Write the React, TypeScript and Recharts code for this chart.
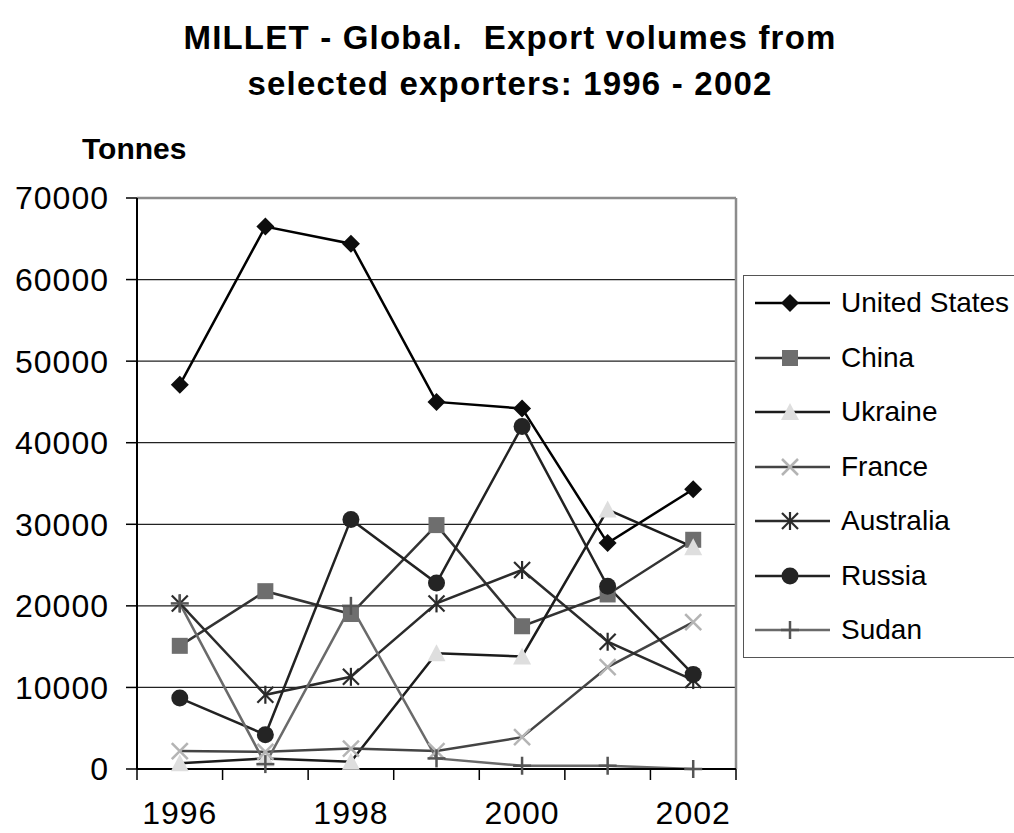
import React from 'react';
import { LineChart, Line, XAxis, YAxis, CartesianGrid, Legend, ReferenceLine } from 'recharts';

const YEARS = [1996, 1997, 1998, 1999, 2000, 2001, 2002];
const YEAR_LABELS = [1996, 1998, 2000, 2002];
const YEAR_EDGES = [1995.5, 1996.5, 1997.5, 1998.5, 1999.5, 2000.5, 2001.5, 2002.5];
const TONNE_TICKS = [0, 10000, 20000, 30000, 40000, 50000, 60000, 70000];

const UNITED_STATES = [47100, 66500, 64400, 45000, 44200, 27700, 34300];
const CHINA = [15100, 21800, 19000, 29900, 17500, 21400, 28100];
const UKRAINE = [700, 1300, 900, 14200, 13800, 31800, 27200];
const FRANCE = [2200, 2100, 2500, 2200, 3900, 12500, 18000];
const AUSTRALIA = [20300, 9100, 11300, 20300, 24400, 15600, 10900];
const RUSSIA = [8700, 4200, 30600, 22800, 42000, 22400, 11600];
const SUDAN = [20300, 600, 20000, 1300, 400, 400, 0];

const series = [
  { key: 'us', name: 'United States', values: UNITED_STATES, line: '#000', mark: '#0d0d0d', shape: 'diamond' },
  { key: 'china', name: 'China', values: CHINA, line: '#333', mark: '#6e6e6e', shape: 'square' },
  { key: 'ukraine', name: 'Ukraine', values: UKRAINE, line: '#1c1c1c', mark: '#dedede', shape: 'triangle' },
  { key: 'france', name: 'France', values: FRANCE, line: '#444', mark: '#b4b4b4', shape: 'x' },
  { key: 'australia', name: 'Australia', values: AUSTRALIA, line: '#2b2b2b', mark: '#2b2b2b', shape: 'star' },
  { key: 'russia', name: 'Russia', values: RUSSIA, line: '#222', mark: '#242424', shape: 'circle' },
  { key: 'sudan', name: 'Sudan', values: SUDAN, line: '#6a6a6a', mark: '#555', shape: 'plus' },
];

const data = YEARS.map((year, i) => {
  const row: any = { year };
  series.forEach((s) => { row[s.key] = s.values[i]; });
  return row;
});

const FONT = '"Liberation Sans", Arial, sans-serif';

function Marker({ shape, cx, cy, color }: { shape: string; cx: number; cy: number; color: string }) {
  switch (shape) {
    case 'diamond':
      return <polygon points={`${cx},${cy - 9} ${cx + 9},${cy} ${cx},${cy + 9} ${cx - 9},${cy}`} fill={color} />;
    case 'square':
      return <rect x={cx - 8} y={cy - 8} width={16} height={16} fill={color} />;
    case 'triangle':
      return <polygon points={`${cx},${cy - 9} ${cx + 9},${cy + 8} ${cx - 9},${cy + 8}`} fill={color} />;
    case 'x':
      return (
        <g stroke={color} strokeWidth={2.5}>
          <line x1={cx - 8} y1={cy - 8} x2={cx + 8} y2={cy + 8} />
          <line x1={cx - 8} y1={cy + 8} x2={cx + 8} y2={cy - 8} />
        </g>
      );
    case 'star':
      return (
        <g stroke={color} strokeWidth={2.2}>
          <line x1={cx - 8} y1={cy - 8} x2={cx + 8} y2={cy + 8} />
          <line x1={cx - 8} y1={cy + 8} x2={cx + 8} y2={cy - 8} />
          <line x1={cx} y1={cy - 9} x2={cx} y2={cy + 9} />
        </g>
      );
    case 'circle':
      return <circle cx={cx} cy={cy} r={8.5} fill={color} />;
    default:
      return (
        <g stroke={color} strokeWidth={2.5}>
          <line x1={cx - 9} y1={cy} x2={cx + 9} y2={cy} />
          <line x1={cx} y1={cy - 9} x2={cx} y2={cy + 9} />
        </g>
      );
  }
}

const LegendBox = () => (
  <div style={{ border: '1px solid #555', background: '#fff', height: 383, boxSizing: 'border-box', fontFamily: FONT }}>
    {series.map((s) => (
      <div key={s.key} style={{ height: 54.5, display: 'flex', alignItems: 'center' }}>
        <svg width={86} height={24} style={{ marginLeft: 11 }}>
          <line x1={0} y1={12} x2={75} y2={12} stroke={s.line} strokeWidth={2.5} />
          <Marker shape={s.shape} cx={35} cy={12} color={s.mark} />
        </svg>
        <span style={{ fontSize: 28, color: '#000', whiteSpace: 'nowrap' }}>{s.name}</span>
      </div>
    ))}
  </div>
);

export default function App() {
  return (
    <div style={{ position: 'absolute', left: 0, top: 0, width: 1014, height: 833, overflow: 'hidden', background: '#fff', fontFamily: FONT }}>
      <div style={{ position: 'absolute', left: 0, top: 15, width: 1020, textAlign: 'center', fontSize: 33, fontWeight: 'bold', lineHeight: '46px', letterSpacing: 1.2 }}>
        MILLET - Global.&nbsp; Export volumes from<br />selected exporters: 1996 - 2002
      </div>
      <div style={{ position: 'absolute', left: 82, top: 132, fontSize: 30, fontWeight: 'bold' }}>Tonnes</div>
      <LineChart width={1014} height={833} data={data} margin={{ top: 198, right: 278, bottom: 0, left: 0 }}>
        <CartesianGrid xAxisId="a" vertical={false} stroke="#222" strokeWidth={1.2} />
        <XAxis
          xAxisId="a"
          type="number"
          dataKey="year"
          domain={[1995.5, 2002.5]}
          ticks={YEAR_EDGES}
          tickFormatter={() => ''}
          tickSize={11}
          height={11}
          axisLine={{ stroke: '#000', strokeWidth: 2 }}
          tickLine={{ stroke: '#000', strokeWidth: 1.5 }}
        />
        <XAxis
          xAxisId="b"
          type="number"
          dataKey="year"
          domain={[1995.5, 2002.5]}
          ticks={YEAR_LABELS}
          axisLine={false}
          tickLine={false}
          tickSize={0}
          tickMargin={21}
          height={53}
          tick={{ fill: '#000', fontSize: 32, letterSpacing: 1 }}
        />
        <YAxis
          domain={[0, 70000]}
          ticks={TONNE_TICKS}
          width={137}
          tickSize={11}
          tickMargin={17}
          axisLine={{ stroke: '#000', strokeWidth: 2 }}
          tickLine={{ stroke: '#000', strokeWidth: 1.5 }}
          tick={{ fill: '#000', fontSize: 32, letterSpacing: 1 }}
        />
        <ReferenceLine xAxisId="a" y={70000} stroke="#8c8c8c" strokeWidth={2.5} />
        <ReferenceLine xAxisId="a" x={2002.5} stroke="#8c8c8c" strokeWidth={2.5} />
        {/* invisible series so the label axis gets its scale */}
        <Line xAxisId="b" dataKey="us" stroke="none" dot={false} activeDot={false} legendType="none" isAnimationActive={false} />
        {series.map((s) => (
          <Line
            key={s.key}
            xAxisId="a"
            type="linear"
            dataKey={s.key}
            name={s.name}
            stroke={s.line}
            strokeWidth={2.5}
            isAnimationActive={false}
            dot={(p: any) => <Marker key={`${s.key}-${p.index}`} shape={s.shape} cx={p.cx} cy={p.cy} color={s.mark} />}
            activeDot={false}
          />
        ))}
        <Legend
          layout="vertical"
          align="center"
          verticalAlign="middle"
          wrapperStyle={{ left: 743, top: 275, width: 300 }}
          content={() => <LegendBox />}
        />
      </LineChart>
    </div>
  );
}
